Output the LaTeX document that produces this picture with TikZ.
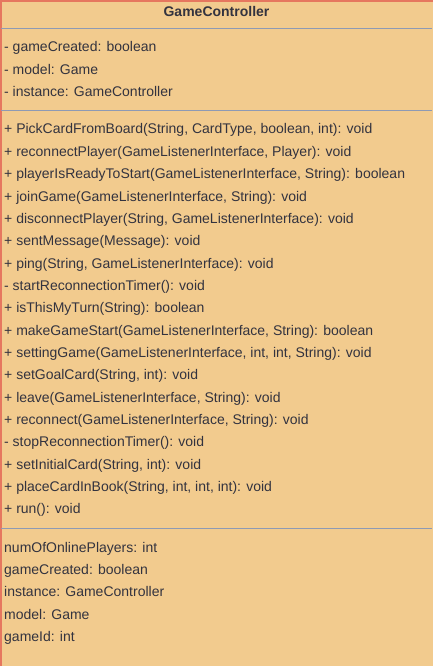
\documentclass[tikz,border=0pt]{standalone}
\usepackage{fontspec}
\setmainfont{Liberation Sans}
\definecolor{boxfill}{HTML}{F2CB8E}
\definecolor{boxedge}{HTML}{E6775F}
\definecolor{divline}{HTML}{8E9AB4}
\definecolor{txt}{HTML}{33333F}
\begin{document}
\begin{tikzpicture}[x=1pt,y=-1pt,
  row/.style={anchor=west,inner sep=0pt,text height=10pt,text depth=3pt,text=txt,font=\fontsize{14}{16}\selectfont},
  ttl/.style={anchor=center,inner sep=0pt,text height=10pt,text depth=3pt,text=txt,font=\fontsize{14}{16}\selectfont\bfseries}]
\useasboundingbox (0,0) rectangle (433,666);
\node[draw=boxedge,fill=boxfill,line width=1.2pt,minimum width=432pt,minimum height=665pt,anchor=north west,inner sep=0pt] (box) at (0.5,0.5) {};
\node[ttl] (title) at (216.5,13.5) {GameController};
\coordinate (d1l) at (1,28.5); \coordinate (d1r) at (432,28.5);
\coordinate (d2l) at (1,110.5); \coordinate (d2r) at (432,110.5);
\coordinate (d3l) at (1,528.5); \coordinate (d3r) at (432,528.5);
\draw[divline,line width=1pt] (d1l) -- (d1r);
\draw[divline,line width=1pt] (d2l) -- (d2r);
\draw[divline,line width=1pt] (d3l) -- (d3r);
\foreach \t [count=\i] in {{- gameCreated: boolean},{- model: Game},{- instance: GameController}}
  \node[row] (a\i) at (4,{48.5+(\i-1)*22.3}) {\t};
\foreach \t [count=\i] in {
 {+ PickCardFromBoard(String, CardType, boolean, int): void},
 {+ reconnectPlayer(GameListenerInterface, Player): void},
 {+ playerIsReadyToStart(GameListenerInterface, String): boolean},
 {+ joinGame(GameListenerInterface, String): void},
 {+ disconnectPlayer(String, GameListenerInterface): void},
 {+ sentMessage(Message): void},
 {+ ping(String, GameListenerInterface): void},
 {- startReconnectionTimer(): void},
 {+ isThisMyTurn(String): boolean},
 {+ makeGameStart(GameListenerInterface, String): boolean},
 {+ settingGame(GameListenerInterface, int, int, String): void},
 {+ setGoalCard(String, int): void},
 {+ leave(GameListenerInterface, String): void},
 {+ reconnect(GameListenerInterface, String): void},
 {- stopReconnectionTimer(): void},
 {+ setInitialCard(String, int): void},
 {+ placeCardInBook(String, int, int, int): void},
 {+ run(): void}}
  \node[row] (m\i) at (4,{130.5+(\i-1)*22.35}) {\t};
\foreach \t [count=\i] in {{numOfOnlinePlayers: int},{gameCreated: boolean},{instance: GameController},{model: Game},{gameId: int}}
  \node[row] (b\i) at (4,{548.5+(\i-1)*22.35}) {\t};
\end{tikzpicture}
\end{document}
